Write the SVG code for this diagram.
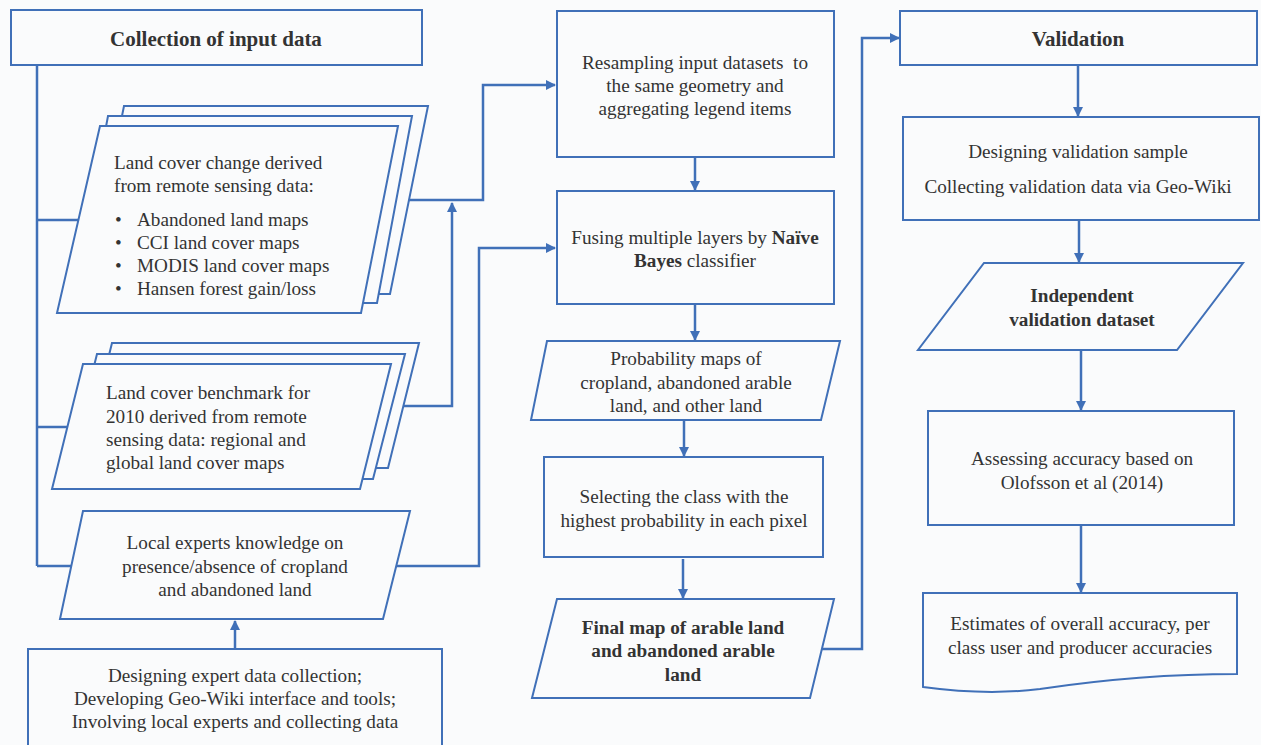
<svg xmlns="http://www.w3.org/2000/svg" width="1261" height="745" viewBox="0 0 1261 745" font-family="'Liberation Serif', 'DejaVu Serif', serif">
<defs>
<marker id="ah" viewBox="0 0 10 10" refX="9" refY="5" markerWidth="4" markerHeight="4" orient="auto" markerUnits="strokeWidth">
<path d="M0,0 L10,5 L0,10 z" fill="#4070B8"/>
</marker>
<style>
.w{fill:#FAFBFC;stroke:#4070B8;stroke-width:2}
.c{fill:none;stroke:#4070B8;stroke-width:2.5}
.a{fill:none;stroke:#4070B8;stroke-width:2.5;marker-end:url(#ah)}
text{font-family:'Liberation Serif','DejaVu Serif',serif;font-size:19.2px;fill:#333333}
.m{text-anchor:middle}
.b{font-weight:bold}
.h{font-size:21px}
</style>
</defs>
<rect width="1261" height="745" fill="#FAFBFC"/>

<g id="connectors">
<path class="c" d="M37,65 V566"/>
<path class="c" d="M37,220 H85"/>
<path class="c" d="M37,427 H75"/>
<path class="c" d="M37,566 H75"/>
<path class="a" d="M405,200 H483 V85 H555"/>
<path class="a" d="M395,406 H452 V203"/>
<path class="a" d="M395,566 H479 V248 H555"/>
<path class="a" d="M235,649 V621"/>
<path class="a" d="M695,157 V190"/>
<path class="a" d="M695,304 V340"/>
<path class="a" d="M684,420 V456"/>
<path class="a" d="M683,559 V598"/>
<path class="a" d="M820,649 H862 V38 H899"/>
<path class="a" d="M1078,65 V116"/>
<path class="a" d="M1079,220 V262"/>
<path class="a" d="M1081,350 V410"/>
<path class="a" d="M1081,525 V592"/>
</g>

<g id="collection">
<rect class="w" x="11" y="10" width="411" height="55"/>
<text class="m b h" x="216" y="46">Collection of input data</text>
</g>

<g id="landcover-change">
<polygon class="w" points="124,106 428,106 390,294 86,294"/>
<polygon class="w" points="108,116 412,116 377,303 73,303"/>
<polygon class="w" points="100,126 398,126 361,313 57,313"/>
<text x="114" y="169">Land cover change derived</text>
<text x="114" y="192">from remote sensing data:</text>
<text x="115" y="226">•</text><text x="137" y="226">Abandoned land maps</text>
<text x="115" y="249">•</text><text x="137" y="249">CCI land cover maps</text>
<text x="115" y="272">•</text><text x="137" y="272">MODIS land cover maps</text>
<text x="115" y="295">•</text><text x="137" y="295">Hansen forest gain/loss</text>
</g>

<g id="benchmark">
<polygon class="w" points="112,343 419,343 388,468 81,468"/>
<polygon class="w" points="97,354 405,354 373,479 66,479"/>
<polygon class="w" points="83,364 391,364 360,489 52,489"/>
<text x="106" y="399">Land cover benchmark for</text>
<text x="106" y="423">2010 derived from remote</text>
<text x="106" y="446">sensing data: regional and</text>
<text x="106" y="469">global land cover maps</text>
</g>

<g id="local-experts">
<polygon class="w" points="83,511 410,511 383,619 60,619"/>
<text class="m" x="235" y="549">Local experts knowledge on</text>
<text class="m" x="235" y="573">presence/absence of cropland</text>
<text class="m" x="235" y="596">and abandoned land</text>
</g>

<g id="expert-collection">
<rect class="w" x="28" y="649" width="414" height="100"/>
<text class="m" x="235" y="682">Designing expert data collection;</text>
<text class="m" x="235" y="705">Developing Geo-Wiki interface and tools;</text>
<text class="m" x="235" y="728">Involving local experts and collecting data</text>
</g>

<g id="resampling">
<rect class="w" x="557" y="11" width="277" height="146"/>
<text class="m" x="695" y="69" xml:space="preserve">Resampling input datasets  to</text>
<text class="m" x="695" y="92">the same geometry and</text>
<text class="m" x="695" y="115">aggregating legend items</text>
</g>

<g id="fusing">
<rect class="w" x="557" y="191" width="277" height="113"/>
<text class="m" x="695" y="244">Fusing multiple layers by <tspan class="b">Naïve</tspan></text>
<text class="m" x="695" y="267"><tspan class="b">Bayes</tspan> classifier</text>
</g>

<g id="probability">
<polygon class="w" points="547,341 840,341 821,420 531,420"/>
<text class="m" x="686" y="365">Probability maps of</text>
<text class="m" x="686" y="389">cropland, abandoned arable</text>
<text class="m" x="686" y="412">land, and other land</text>
</g>

<g id="selecting">
<rect class="w" x="544" y="457" width="279" height="100"/>
<text class="m" x="684" y="503">Selecting the class with the</text>
<text class="m" x="684" y="527">highest probability in each pixel</text>
</g>

<g id="final-map">
<polygon class="w" points="557,599 834,599 810,698 532,698"/>
<text class="m b" x="683" y="634">Final map of arable land</text>
<text class="m b" x="683" y="657">and abandoned arable</text>
<text class="m b" x="683" y="681">land</text>
</g>

<g id="validation">
<rect class="w" x="900" y="11" width="357" height="54"/>
<text class="m b h" x="1078" y="46">Validation</text>
</g>

<g id="designing-sample">
<rect class="w" x="903" y="117" width="356" height="103"/>
<text class="m" x="1078" y="158">Designing validation sample</text>
<text class="m" x="1078" y="193">Collecting validation data via Geo-Wiki</text>
</g>

<g id="independent">
<polygon class="w" points="984,263 1243,263 1177,350 918,350"/>
<text class="m b" x="1082" y="302">Independent</text>
<text class="m b" x="1082" y="326">validation dataset</text>
</g>

<g id="assessing">
<rect class="w" x="928" y="411" width="306" height="114"/>
<text class="m" x="1082" y="465">Assessing accuracy based on</text>
<text class="m" x="1082" y="489">Olofsson et al (2014)</text>
</g>

<g id="estimates">
<path class="w" d="M923,593 H1237 V674 C1160,674 1100,680 1040,689 C1000,694 960,692 923,687 Z"/>
<text class="m" x="1080" y="630">Estimates of overall accuracy, per</text>
<text class="m" x="1080" y="654">class user and producer accuracies</text>
</g>
</svg>
